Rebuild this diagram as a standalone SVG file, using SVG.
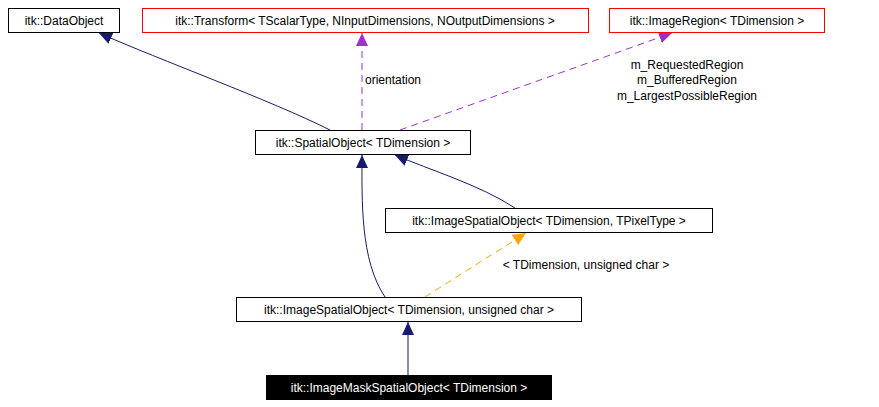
<svg xmlns="http://www.w3.org/2000/svg" width="879" height="407" viewBox="0 0 879 407">
<style>
text{font-family:"Liberation Sans",Arial,sans-serif;font-size:12px;fill:#000}
.n{fill:#fff;stroke:#000;stroke-width:1}
.r{fill:#fff;stroke:#f00;stroke-width:1}
.inh{fill:none;stroke:#191970;stroke-width:1}
.use{fill:none;stroke:#9a32cd;stroke-width:1;stroke-dasharray:7,5}
.tpl{fill:none;stroke:#ffa500;stroke-width:1;stroke-dasharray:7,5}
</style>
<defs>
<marker id="aN" markerWidth="14" markerHeight="12" refX="13" refY="6" orient="auto" markerUnits="userSpaceOnUse"><path d="M0,0 L13,6 L0,12 z" fill="#191970"/></marker>
<marker id="aP" markerWidth="14" markerHeight="12" refX="13" refY="6" orient="auto" markerUnits="userSpaceOnUse"><path d="M0,0 L13,6 L0,12 z" fill="#9a32cd"/></marker>
<marker id="aO" markerWidth="14" markerHeight="12" refX="13" refY="6" orient="auto" markerUnits="userSpaceOnUse"><path d="M0,0 L13,6 L0,12 z" fill="#ffa500"/></marker>
</defs>
<g id="connectors">
<path class="inh" d="M330,130 C270,100 160,60 99,33" marker-end="url(#aN)"/>
<path class="use" d="M362,130 L362,33" marker-end="url(#aP)"/>
<text x="365" y="84">orientation</text>
<path class="use" d="M400,130 L672,33" marker-end="url(#aP)"/>
<text x="687" y="69" text-anchor="middle">m_RequestedRegion</text>
<text x="687" y="84" text-anchor="middle">m_BufferedRegion</text>
<text x="687" y="100" text-anchor="middle">m_LargestPossibleRegion</text>
<path class="inh" d="M515,208 C480,185 430,170 395,155" marker-end="url(#aN)"/>
<path class="inh" d="M385,297 C360,260 362,200 362,155" marker-end="url(#aN)"/>
<path class="tpl" d="M425,297 L526,233" marker-end="url(#aO)"/>
<text x="586" y="269" text-anchor="middle">&lt; TDimension, unsigned char &gt;</text>
<path class="inh" d="M408,375 L408,322" marker-end="url(#aN)"/>
</g>
<g id="dataobject"><rect class="n" x="8.5" y="8.5" width="111" height="24"/><text x="64" y="25" text-anchor="middle">itk::DataObject</text></g>
<g id="transform"><rect class="r" x="142.5" y="8.5" width="446" height="24"/><text x="365" y="25" text-anchor="middle">itk::Transform&lt; TScalarType, NInputDimensions, NOutputDimensions &gt;</text></g>
<g id="imageregion"><rect class="r" x="609.5" y="8.5" width="215" height="24"/><text x="717" y="25" text-anchor="middle">itk::ImageRegion&lt; TDimension &gt;</text></g>
<g id="spatialobject"><rect class="n" x="255.5" y="130.5" width="215" height="24"/><text x="363" y="147" text-anchor="middle">itk::SpatialObject&lt; TDimension &gt;</text></g>
<g id="imagespatialobject"><rect class="n" x="385.5" y="208.5" width="327" height="24"/><text x="549" y="225" text-anchor="middle">itk::ImageSpatialObject&lt; TDimension, TPixelType &gt;</text></g>
<g id="imagespatialobjectuc"><rect class="n" x="236.5" y="297.5" width="345" height="24"/><text x="409" y="314" text-anchor="middle">itk::ImageSpatialObject&lt; TDimension, unsigned char &gt;</text></g>
<g id="imagemask"><rect x="266.5" y="375.5" width="285" height="24" fill="#000" stroke="#000"/><text x="409" y="392" text-anchor="middle" style="fill:#fff">itk::ImageMaskSpatialObject&lt; TDimension &gt;</text></g>
</svg>
